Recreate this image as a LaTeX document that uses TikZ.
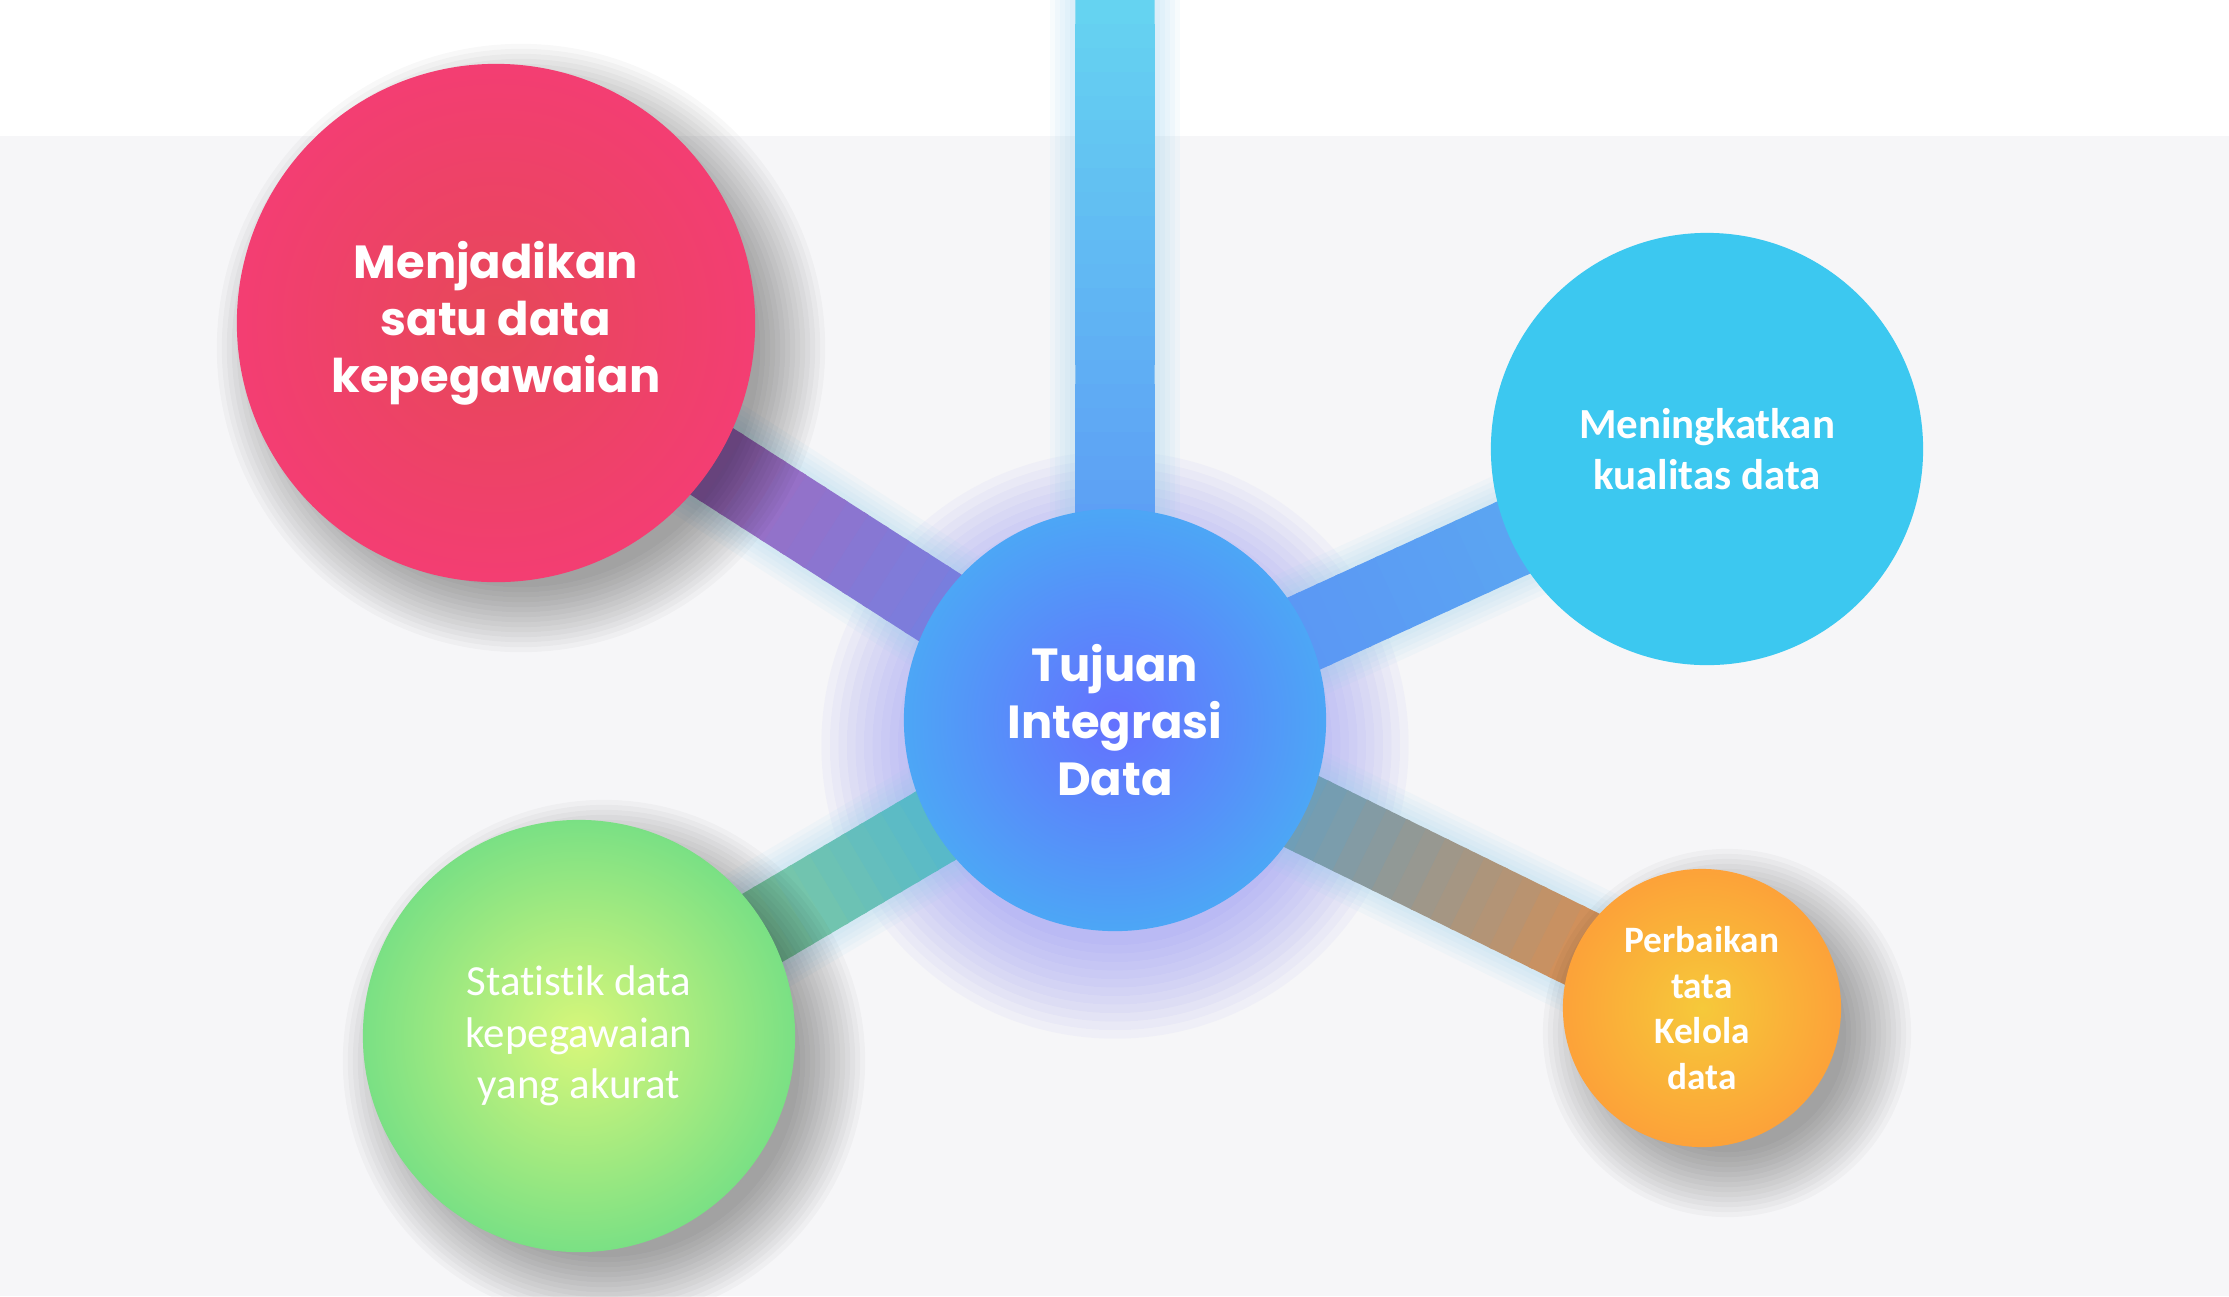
\documentclass[tikz,border=0pt]{standalone}
\usepackage{fontspec}
\setmainfont{Carlito}[Ligatures=NoCommon]
\newfontfamily\gothicfont{Poppins}
\usepackage{tikz}
\usetikzlibrary{calc}

\definecolor{backgray}{HTML}{F6F6F8}
\definecolor{hubin}{HTML}{6470FE}
\definecolor{hubout}{HTML}{44BAF3}
\definecolor{pinkin}{HTML}{E64858}
\definecolor{pinkout}{HTML}{F83A7C}
\definecolor{greenin}{HTML}{D8F77A}
\definecolor{greenout}{HTML}{58D888}
\definecolor{orangein}{HTML}{F6C93A}
\definecolor{orangeout}{HTML}{FF9438}
\definecolor{skyblue}{HTML}{3CC8F0}
\definecolor{topbar}{HTML}{65D3F1}
\definecolor{hubbar}{HTML}{5A8CF6}
\definecolor{pinkbar}{HTML}{C65AA2}
\definecolor{skybar}{HTML}{5CB0F0}
\definecolor{greenbar}{HTML}{A6DA78}
\definecolor{orangebar}{HTML}{F88A34}
\definecolor{cyanbar}{HTML}{2EA8F5}
\definecolor{glowviolet}{HTML}{8080F4}
\definecolor{glowcyan}{HTML}{8ED0F0}

\pgfdeclareradialshading{hubshade}{\pgfpoint{0bp}{0bp}}{color(0bp)=(hubin); color(34bp)=(hubout); color(50bp)=(hubout)}
\pgfdeclareradialshading{pinkshade}{\pgfpoint{0bp}{0bp}}{color(0bp)=(pinkin); color(34bp)=(pinkout); color(50bp)=(pinkout)}
\pgfdeclareradialshading{greenshade}{\pgfpoint{0bp}{0bp}}{color(0bp)=(greenin); color(34bp)=(greenout); color(50bp)=(greenout)}
\pgfdeclareradialshading{orangeshade}{\pgfpoint{0bp}{0bp}}{color(0bp)=(orangein); color(34bp)=(orangeout); color(50bp)=(orangeout)}

\pgfdeclarelayer{back}
\pgfdeclarelayer{shade}
\pgfsetlayers{back,shade,main}

\begin{document}
\begin{tikzpicture}[x=0.01cm, y=-0.01cm]
\tikzstyle{bubble} = [circle, inner sep=0pt, align=center, text=white]
\tikzstyle{gothic} = [font=\gothicfont\bfseries\fontsize{13.2}{16.2}\selectfont]
\tikzstyle{spokeglow} = [glowcyan, opacity=0.07]

\def\spoke#1#2#3#4{
  \foreach \i in {0,...,29}{
    \pgfmathtruncatemacro\mix{100-\i*100/29}
    \draw[line width=0.79cm, color=#3!\mix!#4] ($(#1.center)!\i/30!(#2.center)$) -- ($(#1.center)!\i/30+0.04!(#2.center)$);
  }}

\useasboundingbox (0,0) rectangle (2229,1296);

    % We start by placing the circles
    \node [bubble, gothic, minimum size=4.22cm, shading=hubshade] (hub) at (1115,720) {Tujuan\\Integrasi\\Data};
    \node [bubble, gothic, minimum size=5.18cm, shading=pinkshade] (pink) at (496,323) {Menjadikan\\satu data\\kepegawaian};
    \node [bubble, font=\bfseries\fontsize{12.2}{14.5}\selectfont, minimum size=4.32cm, fill=skyblue] (sky) at (1707,449) {Meningkatkan\\kualitas data};
    \node [bubble, font=\fontsize{12.2}{14.7}\selectfont, minimum size=4.32cm, shading=greenshade] (green) at (579,1036) {Statistik data\\kepegawaian\\yang akurat};
    \node [bubble, font=\bfseries\fontsize{10.6}{12.9}\selectfont, minimum size=2.78cm, shading=orangeshade] (orange) at (1702,1008) {Perbaikan\\tata\\Kelola\\data};
    \coordinate (top) at (1115,0);

    % Background, glows and the spokes go below the circles
    \begin{pgfonlayer}{back}
    \fill[white] (0,0) rectangle (2229,136);
    \fill[backgray] (0,136) rectangle (2229,1296);
    \foreach \k in {0,...,11}
      \fill[glowviolet, opacity=0.05] ($(hub.center)+(0,25)$) circle [radius=2.0cm+\k*0.085cm];
    \foreach \a/\b in {top/hub, hub/pink, hub/sky, hub/green, hub/orange}
      \foreach \k in {1,...,5}
        \draw[spokeglow, line width=0.79cm+\k*0.1cm] (\a.center) -- (\b.center);
    \spoke{top}{hub}{topbar}{hubbar}
    \spoke{hub}{pink}{hubbar}{pinkbar}
    \spoke{hub}{sky}{hubbar}{skybar}
    \spoke{hub}{green}{cyanbar}{greenbar}
    \spoke{hub}{orange}{cyanbar}{orangebar}
    \end{pgfonlayer}

    % Soft shadows
    \begin{pgfonlayer}{shade}
    \foreach \n/\r in {pink/2.59, green/2.16, orange/1.39}
      \foreach \k in {0,...,13}
        \fill[black, opacity=0.027] ($(\n.center)+(25,25)$) circle [radius=\r*1cm-0.2cm+\k*0.05cm];
    \end{pgfonlayer}

\end{tikzpicture}
\end{document}
